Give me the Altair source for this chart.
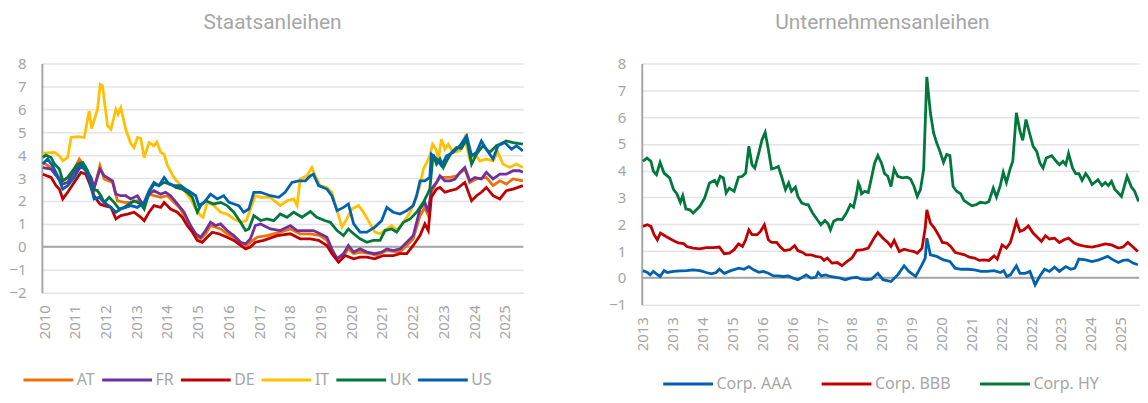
import altair as alt
import pandas as pd

# ---------------- Staatsanleihen (government bond yields, %) ----------------
GOV_SERIES = ["AT", "FR", "DE", "IT", "UK", "US"]
GOV_COLORS = ["#EE7203", "#7030A0", "#C00000", "#FFC000", "#00783C", "#0061AE"]

AT_YEARS = [2009.96, 2010.23, 2010.44, 2010.61, 2010.88, 2011.15, 2011.36, 2011.53, 2011.63, 2011.82, 2011.96, 2012.23, 2012.39, 2012.61, 2012.82, 2013.04, 2013.26, 2013.42, 2013.58, 2013.80, 2014.02, 2014.23, 2014.45, 2014.66, 2014.94, 2015.10, 2015.26, 2015.42, 2015.75, 2015.96, 2016.18, 2016.40, 2016.56, 2016.72, 2016.94, 2017.26, 2017.69, 2018.02, 2018.34, 2018.67, 2018.99, 2019.21, 2019.37, 2019.54, 2019.75, 2019.91, 2020.08, 2020.29, 2020.62, 2020.83, 2021.16, 2021.59, 2021.81, 2022.02, 2022.24, 2022.40, 2022.51, 2022.61, 2022.78, 2022.89, 2023.05, 2023.22, 2023.43, 2023.70, 2023.86, 2024.08, 2024.40, 2024.62, 2024.84, 2025.05, 2025.27, 2025.59]
AT_VALUES = [3.68, 3.46, 3.10, 2.88, 3.10, 3.83, 3.46, 2.96, 2.52, 3.54, 2.96, 2.81, 2.01, 1.94, 1.94, 2.01, 1.80, 2.30, 2.23, 2.16, 2.23, 1.94, 1.65, 1.07, 0.49, 0.35, 0.57, 0.93, 0.78, 0.57, 0.42, 0.13, -0.01, 0.20, 0.42, 0.49, 0.64, 0.78, 0.57, 0.57, 0.49, 0.28, -0.16, -0.52, -0.38, -0.09, -0.30, -0.23, -0.30, -0.38, -0.16, -0.23, 0.06, 0.35, 1.36, 1.72, 1.36, 2.38, 2.81, 3.03, 3.03, 3.03, 3.10, 3.39, 2.81, 2.96, 3.03, 2.67, 2.88, 2.74, 2.96, 2.88]

FR_YEARS = [2009.96, 2010.23, 2010.44, 2010.61, 2010.77, 2010.98, 2011.20, 2011.36, 2011.53, 2011.63, 2011.82, 2011.96, 2012.23, 2012.34, 2012.50, 2012.66, 2012.82, 2013.04, 2013.24, 2013.42, 2013.58, 2013.80, 2013.96, 2014.12, 2014.34, 2014.56, 2014.77, 2014.94, 2015.10, 2015.26, 2015.42, 2015.58, 2015.75, 2015.96, 2016.18, 2016.40, 2016.56, 2016.72, 2016.88, 2017.05, 2017.37, 2017.69, 2018.02, 2018.24, 2018.56, 2018.77, 2018.99, 2019.21, 2019.37, 2019.54, 2019.75, 2019.91, 2020.08, 2020.29, 2020.51, 2020.77, 2020.99, 2021.16, 2021.37, 2021.59, 2021.81, 2022.02, 2022.24, 2022.40, 2022.51, 2022.61, 2022.78, 2022.89, 2023.05, 2023.22, 2023.38, 2023.54, 2023.70, 2023.86, 2024.03, 2024.24, 2024.40, 2024.62, 2024.84, 2025.05, 2025.27, 2025.48, 2025.59]
FR_VALUES = [3.46, 3.39, 3.03, 2.74, 2.81, 3.25, 3.61, 3.39, 3.03, 2.59, 3.39, 3.10, 2.88, 2.30, 2.23, 2.23, 2.09, 2.23, 1.80, 2.30, 2.45, 2.30, 2.38, 2.23, 1.87, 1.51, 0.93, 0.57, 0.42, 0.71, 1.07, 0.93, 1.00, 0.71, 0.49, 0.20, 0.13, 0.35, 0.93, 1.00, 0.78, 0.71, 0.93, 0.71, 0.71, 0.71, 0.57, 0.42, -0.09, -0.52, -0.30, 0.06, -0.23, -0.09, -0.23, -0.30, -0.23, -0.09, -0.16, -0.09, 0.20, 0.49, 1.65, 1.94, 1.51, 2.52, 2.81, 3.10, 2.88, 2.88, 2.96, 3.25, 3.46, 2.88, 3.03, 2.96, 3.25, 2.96, 3.17, 3.17, 3.32, 3.32, 3.25]

DE_YEARS = [2009.96, 2010.23, 2010.39, 2010.50, 2010.61, 2010.77, 2010.98, 2011.20, 2011.36, 2011.47, 2011.63, 2011.82, 2011.96, 2012.18, 2012.34, 2012.50, 2012.72, 2012.93, 2013.15, 2013.26, 2013.42, 2013.58, 2013.80, 2013.91, 2014.12, 2014.34, 2014.50, 2014.66, 2014.83, 2014.99, 2015.15, 2015.31, 2015.48, 2015.69, 2015.96, 2016.18, 2016.40, 2016.56, 2016.72, 2016.88, 2017.15, 2017.59, 2018.02, 2018.34, 2018.67, 2018.94, 2019.21, 2019.37, 2019.59, 2019.81, 2020.08, 2020.29, 2020.51, 2020.77, 2021.05, 2021.37, 2021.59, 2021.81, 2022.02, 2022.24, 2022.40, 2022.51, 2022.61, 2022.78, 2022.89, 2023.05, 2023.22, 2023.43, 2023.70, 2023.92, 2024.08, 2024.24, 2024.40, 2024.62, 2024.84, 2025.05, 2025.27, 2025.59]
DE_VALUES = [3.17, 3.03, 2.67, 2.52, 2.09, 2.38, 2.81, 3.25, 3.17, 2.81, 2.23, 1.87, 1.80, 1.72, 1.22, 1.36, 1.43, 1.51, 1.29, 1.14, 1.51, 1.80, 1.72, 1.94, 1.65, 1.51, 1.29, 0.93, 0.64, 0.28, 0.20, 0.42, 0.64, 0.57, 0.42, 0.28, 0.06, -0.09, -0.01, 0.20, 0.28, 0.49, 0.57, 0.35, 0.35, 0.28, 0.06, -0.30, -0.67, -0.38, -0.52, -0.45, -0.45, -0.52, -0.38, -0.38, -0.30, -0.30, 0.06, 0.49, 1.00, 0.71, 2.16, 2.52, 2.59, 2.38, 2.45, 2.52, 2.81, 2.01, 2.23, 2.38, 2.59, 2.23, 2.09, 2.45, 2.52, 2.67]

IT_YEARS = [2009.96, 2010.34, 2010.50, 2010.61, 2010.77, 2010.88, 2011.09, 2011.31, 2011.47, 2011.55, 2011.74, 2011.83, 2011.90, 2012.07, 2012.18, 2012.34, 2012.41, 2012.50, 2012.66, 2012.82, 2012.93, 2013.04, 2013.15, 2013.26, 2013.42, 2013.58, 2013.67, 2013.80, 2013.91, 2014.02, 2014.23, 2014.45, 2014.61, 2014.77, 2014.94, 2015.10, 2015.18, 2015.31, 2015.53, 2015.75, 2015.96, 2016.18, 2016.40, 2016.59, 2016.72, 2016.88, 2017.05, 2017.37, 2017.69, 2017.91, 2018.13, 2018.24, 2018.34, 2018.56, 2018.72, 2018.83, 2018.99, 2019.21, 2019.37, 2019.54, 2019.70, 2019.86, 2020.02, 2020.24, 2020.40, 2020.62, 2020.77, 2020.94, 2021.16, 2021.32, 2021.48, 2021.70, 2021.92, 2022.13, 2022.24, 2022.35, 2022.46, 2022.56, 2022.65, 2022.76, 2022.84, 2022.94, 2023.05, 2023.16, 2023.32, 2023.54, 2023.70, 2023.86, 2024.03, 2024.19, 2024.40, 2024.62, 2024.78, 2024.94, 2025.16, 2025.38, 2025.59]
IT_VALUES = [4.09, 4.12, 3.97, 3.75, 3.90, 4.77, 4.81, 4.77, 5.93, 5.16, 6.00, 7.09, 7.04, 5.28, 5.13, 6.00, 5.78, 6.07, 5.13, 4.52, 4.33, 4.77, 4.72, 3.90, 4.55, 4.41, 4.58, 4.12, 4.04, 3.54, 3.03, 2.67, 2.38, 2.09, 1.65, 1.36, 1.29, 1.94, 1.80, 1.51, 1.43, 1.22, 1.07, 1.14, 1.65, 2.23, 2.16, 2.16, 1.80, 2.01, 2.09, 1.80, 2.96, 3.10, 3.46, 3.10, 2.67, 2.59, 2.38, 1.58, 0.86, 1.22, 1.65, 1.80, 1.51, 1.00, 0.64, 0.57, 0.78, 0.93, 0.71, 1.07, 1.51, 2.23, 2.67, 3.39, 3.68, 3.97, 4.48, 4.26, 3.83, 4.70, 4.26, 4.48, 4.12, 4.19, 4.77, 3.83, 4.04, 3.75, 3.83, 3.75, 4.12, 3.61, 3.46, 3.61, 3.46]

UK_YEARS = [2009.96, 2010.06, 2010.23, 2010.34, 2010.50, 2010.61, 2010.77, 2010.93, 2011.09, 2011.26, 2011.42, 2011.58, 2011.74, 2011.85, 2011.96, 2012.12, 2012.28, 2012.45, 2012.61, 2012.77, 2012.93, 2013.15, 2013.26, 2013.42, 2013.58, 2013.74, 2013.91, 2014.12, 2014.29, 2014.50, 2014.66, 2014.83, 2014.99, 2015.10, 2015.26, 2015.53, 2015.75, 2015.96, 2016.18, 2016.40, 2016.56, 2016.67, 2016.83, 2017.05, 2017.26, 2017.48, 2017.69, 2017.91, 2018.13, 2018.40, 2018.67, 2018.88, 2019.16, 2019.32, 2019.54, 2019.75, 2019.91, 2020.08, 2020.29, 2020.51, 2020.72, 2020.94, 2021.10, 2021.32, 2021.48, 2021.70, 2021.92, 2022.13, 2022.35, 2022.46, 2022.56, 2022.67, 2022.78, 2022.89, 2023.00, 2023.11, 2023.27, 2023.43, 2023.59, 2023.76, 2023.92, 2024.08, 2024.29, 2024.51, 2024.73, 2024.84, 2025.05, 2025.27, 2025.59]
UK_VALUES = [3.90, 4.00, 3.90, 3.61, 3.39, 2.88, 3.03, 3.32, 3.61, 3.68, 3.32, 2.52, 2.45, 2.23, 1.94, 2.16, 1.94, 1.65, 1.72, 1.87, 2.01, 1.87, 1.65, 2.38, 2.74, 2.67, 2.81, 2.74, 2.59, 2.52, 2.38, 2.16, 1.51, 1.80, 2.01, 1.87, 1.94, 1.80, 1.51, 1.07, 0.71, 0.78, 1.36, 1.15, 1.22, 1.14, 1.43, 1.29, 1.51, 1.29, 1.54, 1.29, 1.14, 1.07, 0.71, 0.49, 0.78, 0.57, 0.35, 0.20, 0.28, 0.28, 0.71, 0.78, 0.64, 1.07, 1.22, 1.51, 1.94, 2.23, 2.52, 4.04, 3.61, 3.83, 3.46, 3.75, 4.12, 4.33, 4.29, 4.70, 3.61, 4.04, 4.41, 4.12, 4.41, 4.48, 4.62, 4.55, 4.48]

US_YEARS = [2009.96, 2010.12, 2010.28, 2010.44, 2010.61, 2010.77, 2010.98, 2011.20, 2011.36, 2011.47, 2011.63, 2011.80, 2011.96, 2012.18, 2012.34, 2012.50, 2012.66, 2012.82, 2013.04, 2013.26, 2013.42, 2013.58, 2013.74, 2013.91, 2014.07, 2014.23, 2014.45, 2014.61, 2014.77, 2014.94, 2015.04, 2015.21, 2015.42, 2015.64, 2015.85, 2016.02, 2016.18, 2016.34, 2016.50, 2016.67, 2016.83, 2017.05, 2017.37, 2017.64, 2017.85, 2018.07, 2018.29, 2018.51, 2018.67, 2018.77, 2018.94, 2019.21, 2019.37, 2019.54, 2019.75, 2019.91, 2020.08, 2020.29, 2020.51, 2020.77, 2020.99, 2021.16, 2021.37, 2021.59, 2021.81, 2022.02, 2022.13, 2022.24, 2022.40, 2022.56, 2022.61, 2022.78, 2022.94, 2023.11, 2023.32, 2023.54, 2023.76, 2023.92, 2024.08, 2024.24, 2024.40, 2024.62, 2024.78, 2025.00, 2025.22, 2025.38, 2025.59]
US_VALUES = [3.61, 3.83, 3.54, 3.10, 2.52, 2.67, 3.03, 3.54, 3.32, 2.96, 2.09, 2.16, 1.94, 1.72, 1.51, 1.65, 1.72, 1.80, 1.72, 1.94, 2.45, 2.81, 2.67, 3.03, 2.74, 2.67, 2.67, 2.52, 2.38, 2.23, 1.80, 1.94, 2.30, 2.09, 2.23, 1.94, 1.87, 1.80, 1.51, 1.65, 2.38, 2.38, 2.23, 2.16, 2.38, 2.81, 2.88, 2.88, 3.10, 3.17, 2.67, 2.52, 2.23, 1.58, 1.72, 1.87, 1.00, 0.64, 0.64, 0.86, 1.14, 1.72, 1.51, 1.43, 1.58, 1.80, 2.23, 2.88, 2.88, 3.03, 4.04, 3.83, 3.54, 3.97, 4.12, 4.41, 4.84, 3.97, 4.12, 4.62, 4.26, 3.83, 4.41, 4.55, 4.26, 4.41, 4.19]

GOV_TICKS = list(range(2010, 2026))

# ---------------- Unternehmensanleihen (corporate bond yields, %) ----------------
CORP_SERIES = ["Corp. AAA", "Corp. BBB", "Corp. HY"]
CORP_COLORS = ["#0061AE", "#C00000", "#00783C"]

AAA_YEARS = [2013.00, 2013.11, 2013.18, 2013.26, 2013.34, 2013.43, 2013.53, 2013.61, 2013.77, 2013.94, 2014.10, 2014.26, 2014.43, 2014.59, 2014.72, 2014.84, 2014.92, 2015.04, 2015.21, 2015.41, 2015.54, 2015.66, 2015.78, 2015.91, 2016.03, 2016.15, 2016.28, 2016.40, 2016.52, 2016.65, 2016.77, 2016.89, 2016.97, 2017.10, 2017.22, 2017.34, 2017.40, 2017.48, 2017.59, 2017.71, 2017.84, 2017.96, 2018.08, 2018.21, 2018.37, 2018.49, 2018.61, 2018.74, 2018.90, 2019.03, 2019.23, 2019.40, 2019.56, 2019.68, 2019.85, 2020.01, 2020.09, 2020.13, 2020.22, 2020.38, 2020.55, 2020.71, 2020.84, 2021.00, 2021.16, 2021.33, 2021.49, 2021.65, 2021.82, 2021.98, 2022.06, 2022.14, 2022.23, 2022.38, 2022.47, 2022.60, 2022.72, 2022.85, 2022.97, 2023.09, 2023.21, 2023.34, 2023.46, 2023.62, 2023.75, 2023.85, 2023.95, 2024.12, 2024.28, 2024.45, 2024.57, 2024.67, 2024.81, 2024.94, 2025.06, 2025.18, 2025.31, 2025.43]
AAA_VALUES = [0.27, 0.20, 0.11, 0.24, 0.15, 0.05, 0.27, 0.20, 0.24, 0.26, 0.27, 0.30, 0.27, 0.20, 0.15, 0.20, 0.32, 0.17, 0.27, 0.36, 0.32, 0.42, 0.30, 0.21, 0.24, 0.17, 0.07, 0.07, 0.05, 0.07, -0.01, -0.07, -0.01, 0.11, -0.01, 0.02, 0.20, 0.07, 0.11, 0.05, 0.02, -0.01, -0.07, -0.01, 0.02, -0.05, -0.07, -0.05, 0.17, -0.07, -0.14, 0.11, 0.45, 0.24, 0.05, 0.49, 0.74, 1.48, 0.86, 0.80, 0.67, 0.61, 0.36, 0.32, 0.32, 0.30, 0.24, 0.24, 0.27, 0.20, 0.27, 0.05, 0.11, 0.45, 0.17, 0.17, 0.24, -0.26, 0.07, 0.32, 0.24, 0.40, 0.24, 0.42, 0.32, 0.36, 0.70, 0.67, 0.61, 0.67, 0.74, 0.80, 0.67, 0.57, 0.65, 0.67, 0.55, 0.49]

BBB_YEARS = [2013.00, 2013.11, 2013.20, 2013.28, 2013.36, 2013.44, 2013.57, 2013.69, 2013.81, 2013.89, 2014.02, 2014.10, 2014.26, 2014.43, 2014.59, 2014.76, 2014.92, 2015.04, 2015.17, 2015.29, 2015.40, 2015.50, 2015.58, 2015.66, 2015.74, 2015.87, 2015.95, 2016.05, 2016.15, 2016.23, 2016.36, 2016.44, 2016.55, 2016.69, 2016.81, 2016.89, 2017.01, 2017.10, 2017.22, 2017.34, 2017.47, 2017.55, 2017.63, 2017.75, 2017.88, 2018.00, 2018.12, 2018.25, 2018.37, 2018.53, 2018.66, 2018.78, 2018.90, 2019.03, 2019.15, 2019.23, 2019.31, 2019.44, 2019.56, 2019.68, 2019.81, 2019.89, 2020.01, 2020.09, 2020.13, 2020.22, 2020.32, 2020.42, 2020.52, 2020.63, 2020.73, 2020.84, 2020.96, 2021.08, 2021.20, 2021.33, 2021.45, 2021.57, 2021.69, 2021.82, 2021.90, 2022.02, 2022.13, 2022.23, 2022.31, 2022.38, 2022.47, 2022.57, 2022.68, 2022.80, 2022.93, 2023.01, 2023.11, 2023.21, 2023.34, 2023.46, 2023.58, 2023.69, 2023.83, 2023.95, 2024.12, 2024.28, 2024.45, 2024.61, 2024.77, 2024.94, 2025.06, 2025.18, 2025.31, 2025.43]
BBB_VALUES = [1.92, 1.98, 1.92, 1.61, 1.42, 1.67, 1.55, 1.45, 1.36, 1.30, 1.28, 1.17, 1.11, 1.08, 1.13, 1.13, 1.15, 0.90, 0.92, 1.05, 1.27, 1.17, 1.42, 1.79, 1.61, 1.61, 1.73, 1.98, 1.42, 1.32, 1.32, 1.17, 1.02, 1.05, 1.20, 1.02, 0.95, 0.86, 0.86, 0.80, 0.77, 0.65, 0.74, 0.55, 0.57, 0.45, 0.61, 0.74, 1.03, 1.05, 1.11, 1.42, 1.69, 1.48, 1.32, 1.17, 1.40, 0.98, 1.07, 1.02, 0.98, 0.92, 1.11, 1.86, 2.54, 2.04, 1.86, 1.61, 1.32, 1.30, 1.17, 0.95, 0.90, 0.86, 0.77, 0.74, 0.65, 0.67, 0.65, 0.82, 0.70, 1.23, 1.11, 1.32, 1.73, 2.11, 1.73, 1.79, 1.94, 1.67, 1.48, 1.36, 1.57, 1.45, 1.48, 1.32, 1.42, 1.48, 1.30, 1.23, 1.17, 1.15, 1.20, 1.27, 1.23, 1.11, 1.15, 1.32, 1.15, 0.98]

HY_YEARS = [2013.00, 2013.10, 2013.20, 2013.26, 2013.34, 2013.43, 2013.53, 2013.67, 2013.77, 2013.85, 2013.94, 2014.00, 2014.08, 2014.18, 2014.26, 2014.43, 2014.55, 2014.67, 2014.80, 2014.86, 2014.94, 2015.02, 2015.09, 2015.17, 2015.29, 2015.40, 2015.50, 2015.58, 2015.66, 2015.74, 2015.81, 2015.91, 2015.99, 2016.07, 2016.15, 2016.23, 2016.32, 2016.40, 2016.48, 2016.58, 2016.66, 2016.73, 2016.83, 2016.89, 2016.99, 2017.10, 2017.15, 2017.26, 2017.38, 2017.47, 2017.57, 2017.65, 2017.71, 2017.79, 2017.89, 2018.00, 2018.11, 2018.21, 2018.29, 2018.37, 2018.41, 2018.45, 2018.49, 2018.57, 2018.66, 2018.74, 2018.82, 2018.90, 2018.99, 2019.07, 2019.15, 2019.23, 2019.31, 2019.40, 2019.52, 2019.64, 2019.72, 2019.81, 2019.89, 2019.97, 2020.05, 2020.13, 2020.22, 2020.30, 2020.38, 2020.46, 2020.55, 2020.63, 2020.71, 2020.79, 2020.88, 2020.98, 2021.06, 2021.16, 2021.26, 2021.37, 2021.47, 2021.61, 2021.69, 2021.80, 2021.88, 2021.97, 2022.05, 2022.13, 2022.23, 2022.29, 2022.38, 2022.47, 2022.54, 2022.62, 2022.72, 2022.80, 2022.89, 2022.97, 2023.05, 2023.13, 2023.27, 2023.38, 2023.46, 2023.55, 2023.62, 2023.69, 2023.79, 2023.87, 2023.95, 2024.03, 2024.12, 2024.20, 2024.28, 2024.43, 2024.53, 2024.61, 2024.69, 2024.77, 2024.85, 2025.02, 2025.16, 2025.27, 2025.35, 2025.45]
HY_VALUES = [4.35, 4.47, 4.35, 3.98, 3.85, 4.31, 3.91, 3.73, 3.29, 3.14, 2.82, 3.07, 2.57, 2.54, 2.42, 2.67, 2.98, 3.54, 3.64, 3.48, 3.79, 3.73, 3.17, 3.35, 3.23, 3.76, 3.79, 3.91, 4.91, 4.22, 4.10, 4.66, 5.16, 5.43, 4.79, 4.06, 4.10, 4.16, 3.79, 3.29, 3.54, 3.23, 3.39, 3.04, 2.79, 2.73, 2.73, 2.42, 2.17, 1.98, 2.14, 2.02, 1.79, 2.11, 2.19, 2.17, 2.42, 2.73, 2.64, 3.17, 3.54, 3.41, 3.14, 3.23, 3.19, 3.73, 4.29, 4.56, 4.29, 3.89, 3.79, 3.41, 4.06, 3.79, 3.73, 3.76, 3.69, 3.41, 3.04, 3.29, 4.04, 7.50, 6.16, 5.41, 5.03, 4.72, 4.31, 4.60, 4.56, 3.41, 3.23, 3.14, 2.89, 2.79, 2.69, 2.73, 2.82, 2.79, 2.85, 3.35, 3.02, 3.41, 3.94, 3.56, 4.10, 4.35, 6.16, 5.47, 5.13, 5.91, 5.35, 4.91, 4.72, 4.29, 4.10, 4.47, 4.56, 4.35, 4.22, 4.35, 4.22, 4.64, 4.10, 3.89, 3.89, 3.64, 3.89, 3.73, 3.48, 3.66, 3.44, 3.56, 3.44, 3.60, 3.31, 3.04, 3.79, 3.39, 3.23, 2.85]

CORP_TICKS = [2013.0, 2013.75, 2014.5, 2015.25, 2016.0, 2016.75, 2017.5, 2018.25, 2019.0,
              2019.75, 2020.5, 2021.25, 2022.0, 2022.75, 2023.5, 2024.25, 2025.0]


def long_frame(names, years_lists, values_lists):
    rows = []
    for order, (name, ys, vs) in enumerate(zip(names, years_lists, values_lists)):
        for y, v in zip(ys, vs):
            rows.append({"series": name, "order": order, "year": y, "value": v})
    return pd.DataFrame(rows)


gov_df = long_frame(GOV_SERIES,
                    [AT_YEARS, FR_YEARS, DE_YEARS, IT_YEARS, UK_YEARS, US_YEARS],
                    [AT_VALUES, FR_VALUES, DE_VALUES, IT_VALUES, UK_VALUES, US_VALUES])
corp_df = long_frame(CORP_SERIES,
                     [AAA_YEARS, BBB_YEARS, HY_YEARS],
                     [AAA_VALUES, BBB_VALUES, HY_VALUES])

FONT = "Noto Sans"
TITLE_FONT = "Roboto"
GREY_TEXT = "#a6a6a6"
GRID = "#e4e4e4"
ZERO = "#a6a6a6"
# long horizontal legend stroke drawn by a compact symbol (keeps legend rows short)
LEGEND_STROKE = "M-1,0H5.25"


def panel(df, names, colors, title, title_dx, x_domain, x_ticks, y_domain, y_ticks,
          width, height, legend_x, legend_y, legend_gap):
    x_enc = alt.X("year:Q",
                  scale=alt.Scale(domain=x_domain, nice=False, zero=False),
                  axis=alt.Axis(values=x_ticks, labelExpr="'' + floor(datum.value)",
                                labelAngle=270, labelFontSize=15, labelColor=GREY_TEXT,
                                labelFont=FONT, labelPadding=12, ticks=False, domain=False,
                                grid=False, title=None, labelOverlap=False, labelFlush=False))
    y_enc = alt.Y("value:Q",
                  scale=alt.Scale(domain=y_domain, nice=False, zero=False),
                  axis=alt.Axis(values=y_ticks, labelFontSize=15, labelColor=GREY_TEXT,
                                labelFont=FONT, labelPadding=16, ticks=False, domain=True,
                                domainColor=ZERO, domainWidth=2, grid=True, gridColor=GRID,
                                gridWidth=1.5, title=None, minExtent=33, maxExtent=33,
                                labelOverlap=False, labelFlush=False))
    lines = alt.Chart(df).mark_line(strokeWidth=2.8, clip=True).encode(
        x=x_enc,
        y=y_enc,
        color=alt.Color("series:N",
                        scale=alt.Scale(domain=names, range=colors),
                        legend=alt.Legend(orient="none", legendX=legend_x, legendY=legend_y,
                                          direction="horizontal", title=None,
                                          symbolType=LEGEND_STROKE, symbolSize=256,
                                          symbolStrokeWidth=3, symbolFillColor="transparent",
                                          labelFontSize=16,
                                          labelFont=FONT, labelColor=GREY_TEXT,
                                          labelOffset=36, columnPadding=legend_gap,
                                          padding=0)),
        order=alt.Order("order:Q"),
        detail="series:N",
    )
    zero = alt.Chart(pd.DataFrame({"value": [0]})).mark_rule(
        color=ZERO, strokeWidth=2).encode(y=y_enc)
    return alt.layer(zero, lines).properties(
        width=width, height=height,
        title=alt.TitleParams(title, fontSize=21, font=TITLE_FONT, color=GREY_TEXT,
                              fontWeight="normal", anchor="middle", dx=title_dx, offset=24),
    )


left = panel(gov_df, GOV_SERIES, GOV_COLORS, "Staatsanleihen", -10,
             [2009.93, 2025.6], GOV_TICKS, [-2, 8], list(range(-2, 9)),
             483, 230, -20, 308, 0)
right = panel(corp_df, CORP_SERIES, CORP_COLORS, "Unternehmensanleihen", -8,
              [2012.97, 2025.46], CORP_TICKS, [-1, 8], list(range(-1, 9)),
              499, 242, 20, 312, 23)

chart = alt.hconcat(left, right, spacing=84).resolve_scale(
    color="independent").configure(
    padding={"top": 3, "left": 0, "right": 0, "bottom": 0}).configure_view(stroke=None)

chart.save("out.html", embed_options={"renderer": "svg", "actions": False})
